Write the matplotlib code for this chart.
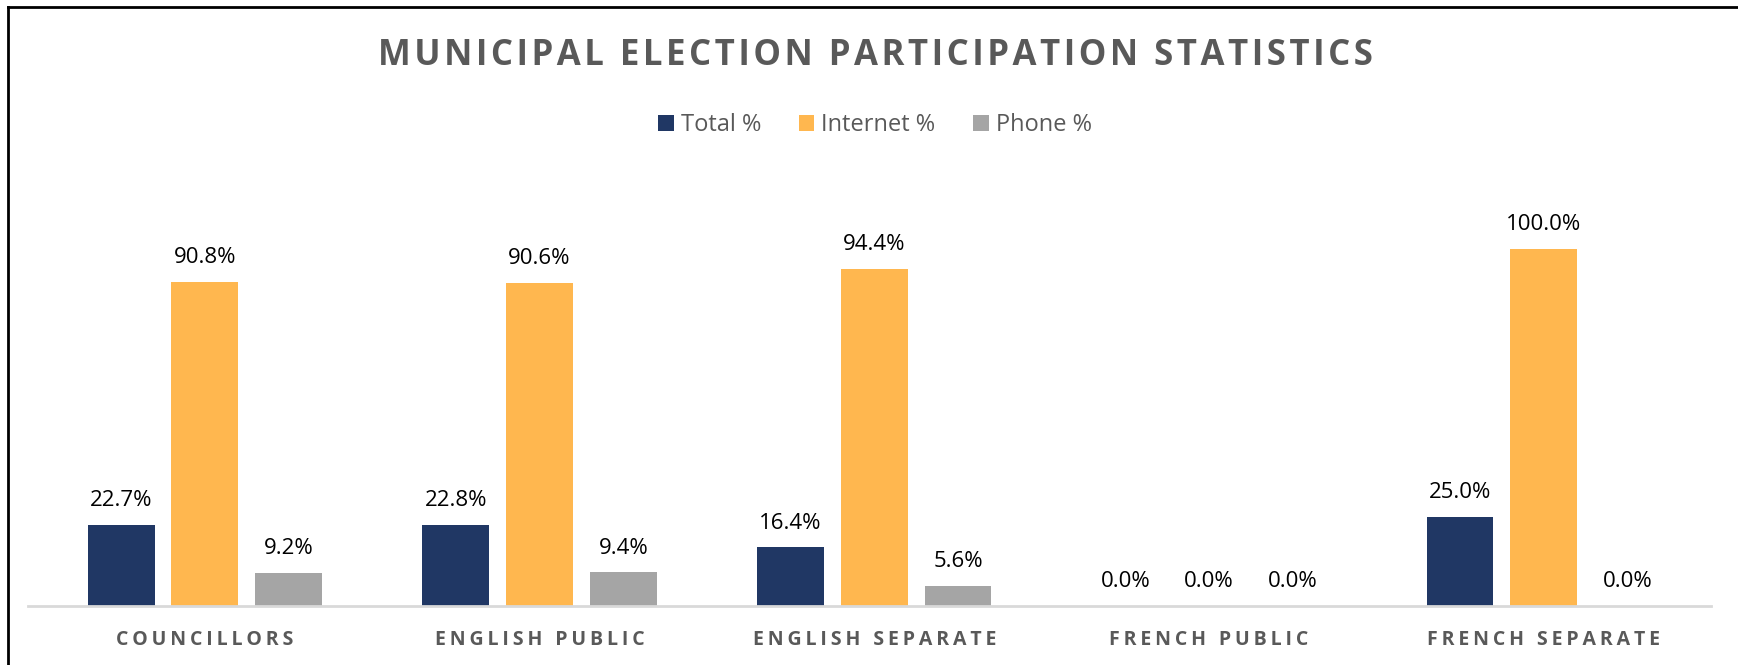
import matplotlib
matplotlib.use("Agg")
import matplotlib.pyplot as plt
import numpy as np
from matplotlib.lines import Line2D

categories = ["COUNCILLORS", "ENGLISH PUBLIC", "ENGLISH SEPARATE", "FRENCH PUBLIC", "FRENCH SEPARATE"]
series_names = ["Total %", "Internet %", "Phone %"]
total_pct = [22.7, 22.8, 16.4, 0.0, 25.0]
internet_pct = [90.8, 90.6, 94.4, 0.0, 100.0]
phone_pct = [9.2, 9.4, 5.6, 0.0, 0.0]
colors = ["#203764", "#FFB74F", "#A5A5A5"]

plt.rcParams["font.family"] = ["Open Sans", "DejaVu Sans"]
grey = "#595959"


def spaced(s, sep="\u200a"):
    # crude letter spacing, Excel-style
    return sep.join(s)


fig = plt.figure(figsize=(17.38, 6.65), dpi=100)
# axes: baseline at y=606px, 100% at y=249px, one group = 334.7px
ax = fig.add_axes([28 / 1738, 59 / 665, 1683 / 1738, 428 / 665])
ax.set_xlim(-0.5 - 9.6 / 334.7, 4.5)
ax.set_ylim(0, 428 / 3.57)

x = np.arange(len(categories))
width = 0.2
for k, vals in enumerate([total_pct, internet_pct, phone_pct]):
    xs = x + (k - 1) * 0.25
    ax.bar(xs, vals, width, color=colors[k], label=series_names[k], zorder=2)
    for xi, v in zip(xs, vals):
        ax.annotate("%.1f%%" % v, (xi, v), xytext=(0, 10), textcoords="offset points",
                    ha="center", va="bottom", fontsize=16, color="black")

for s in ["top", "right", "left"]:
    ax.spines[s].set_visible(False)
ax.spines["bottom"].set_color("#D9D9D9")
ax.spines["bottom"].set_linewidth(2)
ax.set_yticks([])
ax.set_xticks(x)
ax.set_xticklabels([spaced(c, "\u2009") for c in categories], fontsize=14, fontweight="bold", color=grey)
ax.tick_params(axis="x", length=0, pad=17)

fig.text(875 / 1738, 1 - 56 / 665, spaced("MUNICIPAL ELECTION PARTICIPATION STATISTICS", "\u200a"),
         ha="center", va="center", fontsize=25, fontweight="bold", color=grey)

fig.legend(loc="center", bbox_to_anchor=(875 / 1738, 1 - 125 / 665), ncol=3, frameon=False,
           fontsize=17, labelcolor=grey, handlelength=0.65, handleheight=0.65,
           handletextpad=0.3, columnspacing=1.6)

# chart border (left and top visible)
fig.add_artist(Line2D([8 / 1738, 8 / 1738], [0, 1 - 7 / 665], color="black", lw=2, transform=fig.transFigure))
fig.add_artist(Line2D([8 / 1738, 1], [1 - 7 / 665, 1 - 7 / 665], color="black", lw=2, transform=fig.transFigure))

fig.savefig("out.png", dpi=100)
